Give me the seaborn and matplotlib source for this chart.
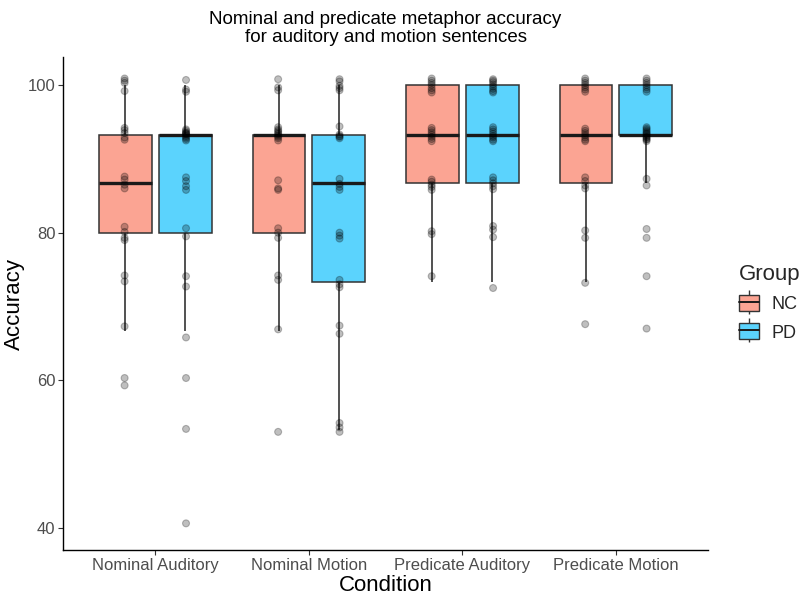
import numpy as np
import pandas as pd
import seaborn as sns
import matplotlib
matplotlib.use("Agg")
import matplotlib.pyplot as plt
from matplotlib.patches import Patch
from matplotlib.lines import Line2D

# ---- data (accuracy values, incl. visual vertical jitter) ----
conditions = ["Nominal Auditory", "Nominal Motion", "Predicate Auditory", "Predicate Motion"]
groups = ["NC", "PD"]

nc_nominal_auditory = [60.3, 59.3, 67.3, 74.2, 73.4, 80.8, 80.1, 79.3, 79.0,
                       87.6, 87.2, 86.5, 86.0, 94.2, 93.9, 93.5, 92.9, 92.6,
                       100.9, 100.6, 100.3, 99.2]
pd_nominal_auditory = [40.6, 53.4, 60.3, 65.8, 74.1, 72.7, 80.6, 79.5,
                       87.5, 87.0, 86.3, 85.8,
                       94.0, 93.8, 93.6, 93.5, 93.4, 93.3, 93.1, 92.9, 92.7, 92.5,
                       100.7, 99.4, 99.1]
nc_nominal_motion = [53.0, 66.9, 74.2, 73.6, 80.6, 80.0, 79.3, 87.1, 86.0, 85.8,
                     94.3, 94.0, 93.8, 93.6, 93.4, 93.2, 93.0, 92.8, 92.5,
                     100.8, 99.7, 99.3]
pd_nominal_motion = [54.2, 53.6, 53.0, 67.4, 66.3, 73.6, 73.0, 72.6, 80.0, 79.6, 79.2,
                     87.3, 86.6, 86.2, 85.8, 94.4, 93.3, 93.1, 93.0, 92.8,
                     100.8, 100.5, 99.9, 99.6, 99.3]
nc_predicate_auditory = [74.1, 80.2, 79.8, 87.2, 86.9, 86.5, 86.2, 85.8,
                         94.2, 93.9, 93.6, 93.3, 93.0, 92.7, 92.4,
                         100.9, 100.6, 100.3, 100.0, 99.6, 99.3, 99.0]
pd_predicate_auditory = [72.5, 80.9, 80.4, 79.4, 87.5, 87.1, 86.7, 86.3, 85.9,
                         94.3, 94.0, 93.7, 93.4, 93.1, 92.9, 92.6, 92.4,
                         100.8, 100.6, 100.4, 100.1, 99.8, 99.5, 99.2, 99.0]
nc_predicate_motion = [67.6, 73.2, 80.3, 79.3, 87.5, 87.0, 86.4, 86.0,
                       94.1, 93.8, 93.5, 93.2, 92.9, 92.6, 92.4,
                       100.9, 100.6, 100.3, 100.0, 99.7, 99.4, 99.1]
pd_predicate_motion = [67.0, 74.1, 80.5, 79.3, 87.3, 86.4,
                       94.3, 94.1, 93.9, 93.7, 93.5, 93.4, 93.2, 93.0, 92.9, 92.7, 92.6, 92.4,
                       100.9, 100.6, 100.3, 100.0, 99.7, 99.4, 99.1]

series = {
    ("Nominal Auditory", "NC"): nc_nominal_auditory,
    ("Nominal Auditory", "PD"): pd_nominal_auditory,
    ("Nominal Motion", "NC"): nc_nominal_motion,
    ("Nominal Motion", "PD"): pd_nominal_motion,
    ("Predicate Auditory", "NC"): nc_predicate_auditory,
    ("Predicate Auditory", "PD"): pd_predicate_auditory,
    ("Predicate Motion", "NC"): nc_predicate_motion,
    ("Predicate Motion", "PD"): pd_predicate_motion,
}

rows = []
for (cond, grp), vals in series.items():
    for v in vals:
        rows.append({"Condition": cond, "Group": grp, "Accuracy": v})
df_pts = pd.DataFrame(rows)
# box statistics use the underlying scores (15 items -> steps of 6.67 %)
df_box = df_pts.copy()
df_box["Accuracy"] = np.round(np.round(df_box["Accuracy"] * 0.15) / 0.15, 1)

# ---- style ----
sns.set_theme(style="white")
plt.rcParams["font.family"] = ["Liberation Sans", "DejaVu Sans"]

fill_colors = {"NC": "#FBA493", "PD": "#5BD3FD"}
edge = "#333333"

fig = plt.figure(figsize=(8.0, 6.01), dpi=100)
ax = fig.add_axes([0.079, 0.085, 0.806, 0.82])

sns.boxplot(data=df_box, x="Condition", y="Accuracy", hue="Group",
            order=conditions, hue_order=groups, palette=fill_colors,
            saturation=1, width=0.78, gap=0.12, showfliers=False, showcaps=False,
            linecolor=edge, linewidth=1.1,
            medianprops=dict(color="#1a1a1a", linewidth=2.4),
            whiskerprops=dict(color="#333333", linewidth=1.2),
            legend=False, ax=ax)

sns.stripplot(data=df_pts, x="Condition", y="Accuracy", hue="Group",
              order=conditions, hue_order=groups, palette=["black", "black"],
              dodge=True, jitter=False, alpha=0.25, size=5.0,
              linewidth=0.8, edgecolor="black", legend=False, ax=ax)

ax.set_xlim(-0.6, 3.6)
ax.set_ylim(37.0, 103.8)
ax.set_yticks([40, 60, 80, 100])
ax.set_yticklabels(["40", "60", "80", "100"])

for s in ["top", "right"]:
    ax.spines[s].set_visible(False)
for s in ["left", "bottom"]:
    ax.spines[s].set_color("black")
    ax.spines[s].set_linewidth(1.0)

ax.tick_params(axis="both", which="major", length=3.5, width=0.8, color="#333333",
               labelsize=12, labelcolor="#4D4D4D", pad=2.0, bottom=True, left=True)

ax.set_xlabel("Condition", fontsize=16, color="black", labelpad=2)
ax.set_ylabel("Accuracy", fontsize=16, color="black", labelpad=3)
ax.yaxis.set_label_coords(-0.06, 0.5)
ax.set_title("Nominal and predicate metaphor accuracy\nfor auditory and motion sentences",
             fontsize=13.5, color="black", pad=11, linespacing=1.05)

handles = [(Line2D([], [], linestyle="none", marker="|", markersize=17,
                   markeredgewidth=1.0, color=edge),
            Patch(facecolor=fill_colors[g], edgecolor=edge, linewidth=1.0),
            Line2D([], [], color="#1a1a1a", linewidth=1.4)) for g in groups]
leg = fig.legend(handles, groups, title="Group", loc="center left",
                 bbox_to_anchor=(0.903, 0.496), frameon=False, fontsize=13,
                 title_fontsize=16, handlelength=1.1, handleheight=1.0,
                 handletextpad=0.7, labelspacing=0.55)
leg._legend_box.align = "left"

fig.savefig("out.png", dpi=100)
